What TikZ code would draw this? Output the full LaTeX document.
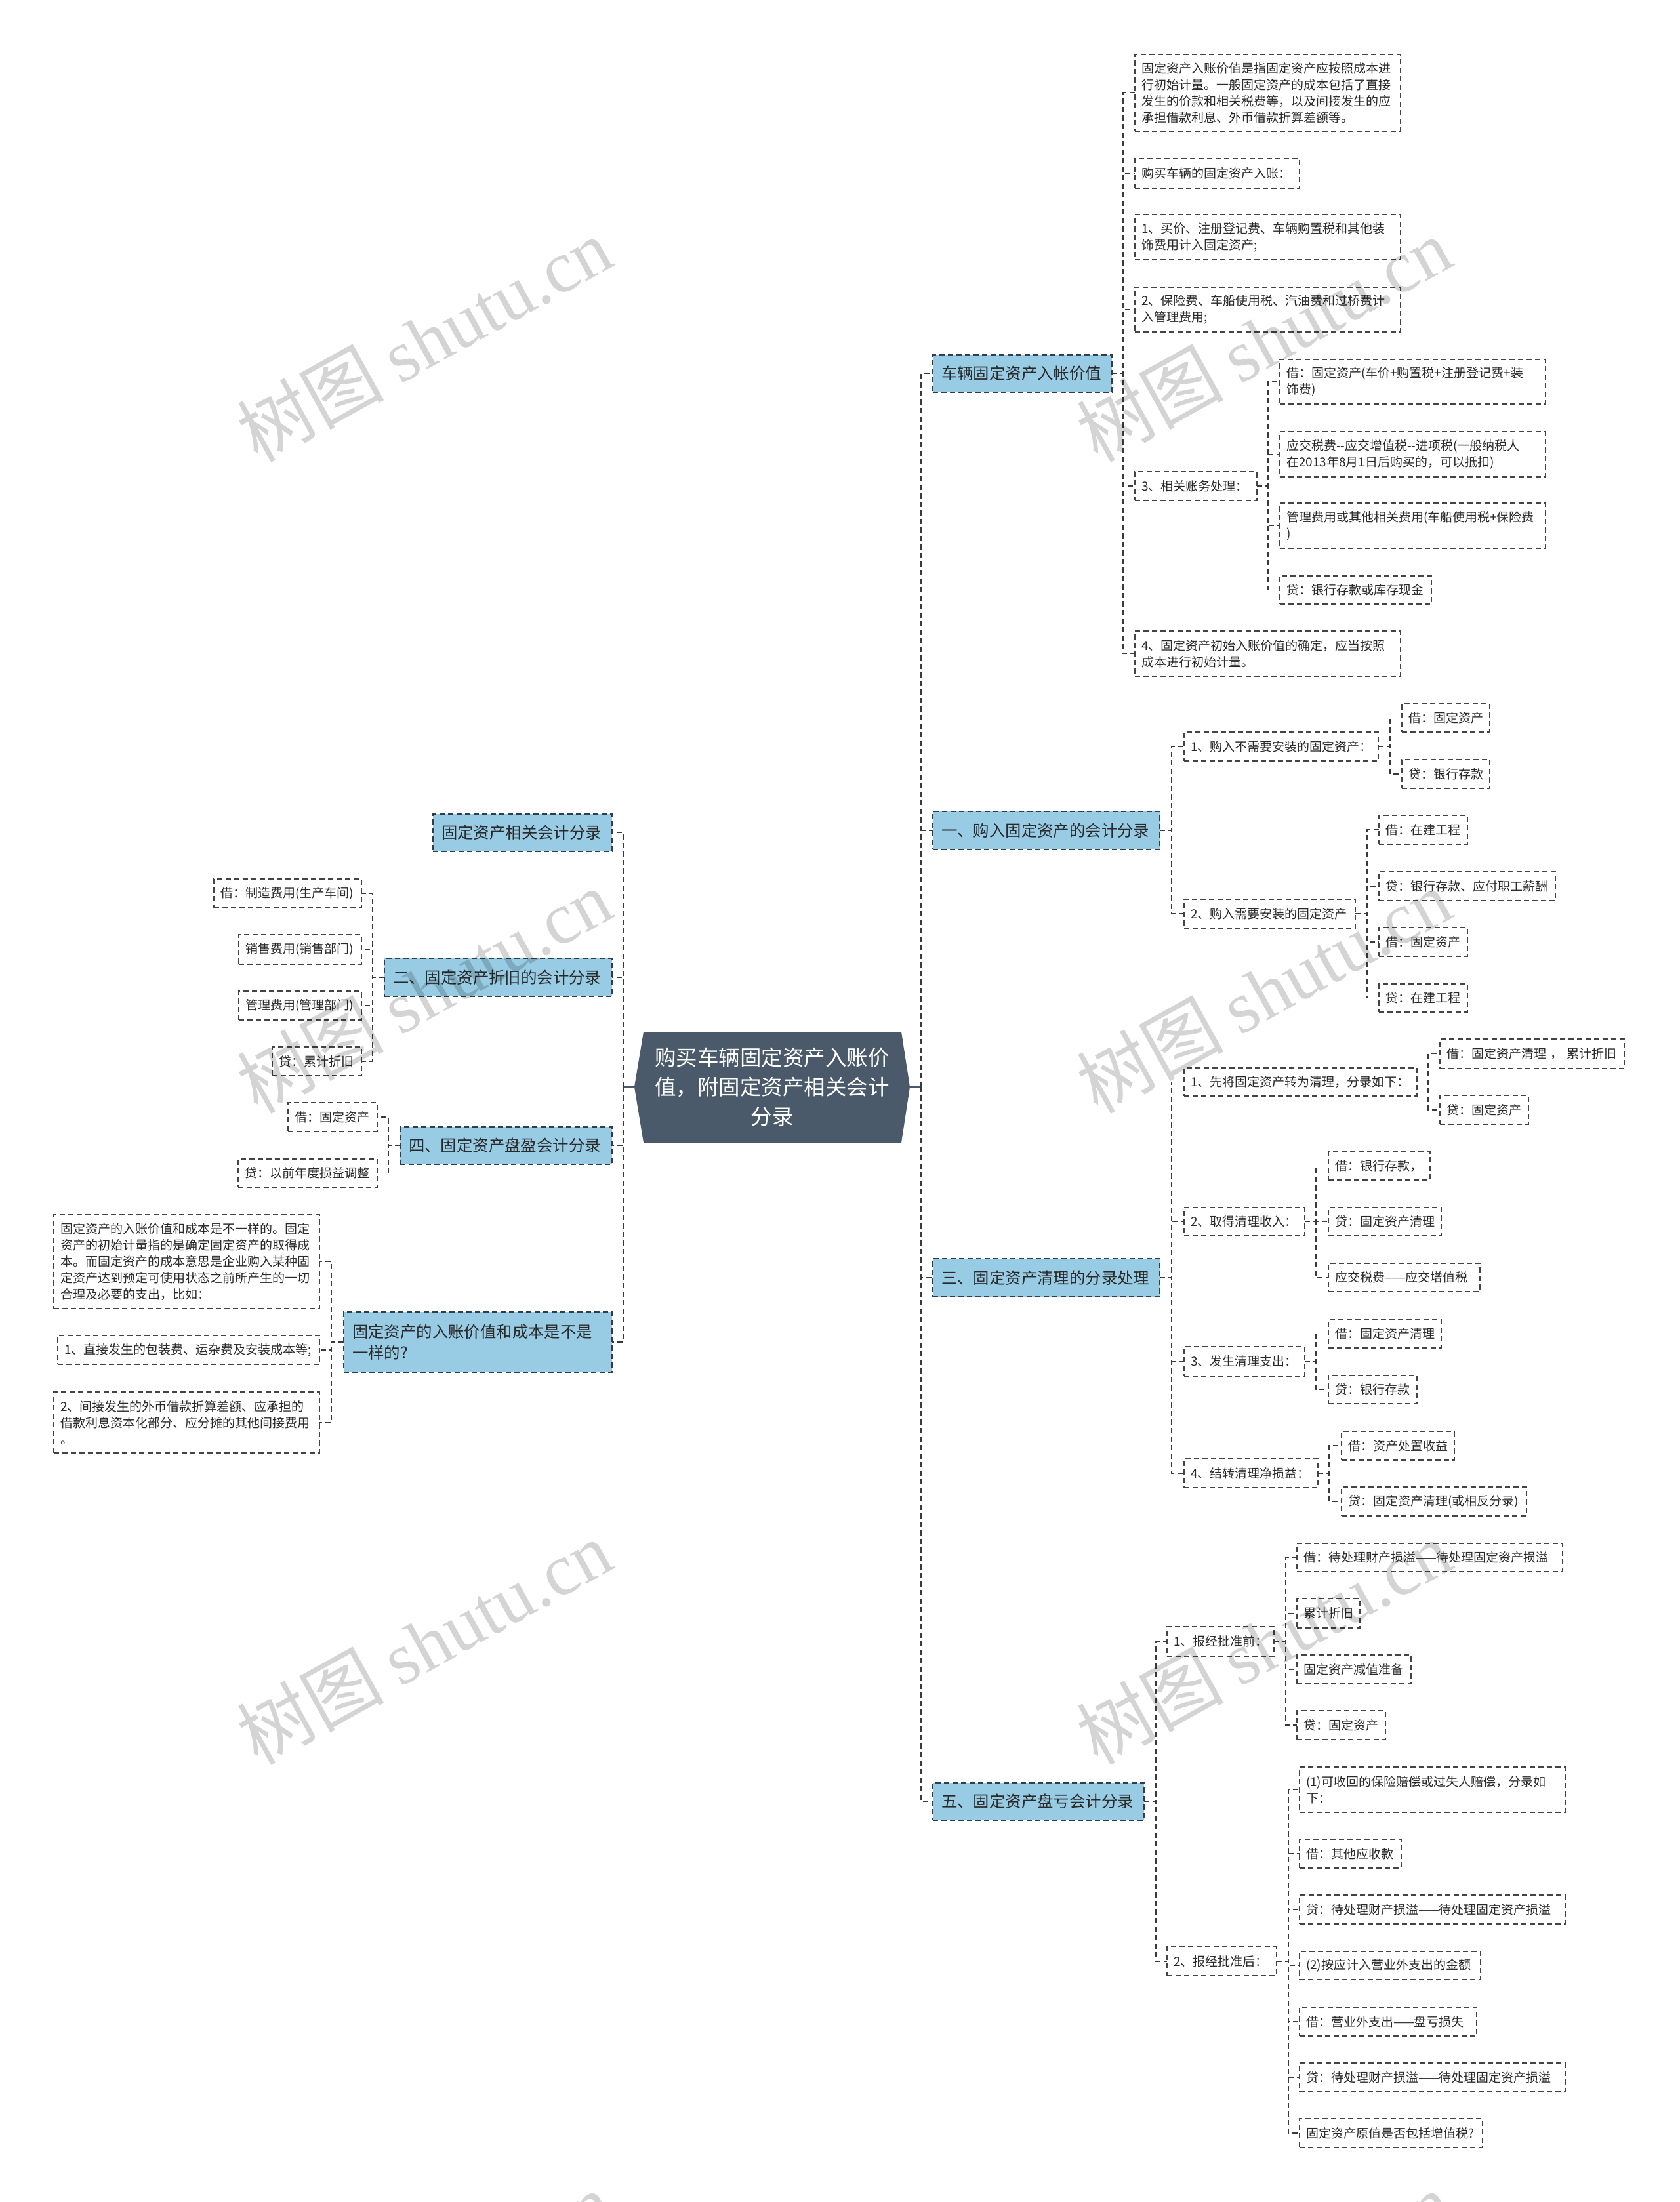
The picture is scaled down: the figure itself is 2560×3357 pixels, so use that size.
\documentclass[tikz,border=0pt]{standalone}
\usepackage{fontspec}
\newfontfamily\cjk{Noto Sans CJK SC}
\newfontfamily\wmlatin{Liberation Serif}
\usetikzlibrary{calc}
\definecolor{bluef}{HTML}{97CCE4}
\definecolor{topicb}{HTML}{2E3E4E}
\definecolor{rootf}{HTML}{4A5A6A}
\definecolor{linec}{HTML}{3A3A3A}
\definecolor{boxc}{HTML}{444444}
\definecolor{txt}{HTML}{2A2A2A}
\tikzset{
  conn/.style={draw=linec, line width=1.6pt, dash pattern=on 8pt off 5pt},
  rootline/.style={draw=rootf, line width=2.6pt},
  leaf/.style={draw=boxc, line width=1.6pt, dash pattern=on 8pt off 5pt, inner ysep=3pt,
    align=left, text=txt, outer sep=0pt, font=\cjk\fontsize{19}{25}\selectfont},
  topic/.style={fill=bluef, draw=topicb, line width=1.6pt, dash pattern=on 8pt off 5pt,
    inner ysep=3pt, align=left, text=txt, outer sep=0pt, font=\cjk\fontsize{24.4}{32}\selectfont},
  rootnode/.style={align=center, text=white, inner sep=0pt, minimum width=420pt, minimum height=169pt,
    font=\cjk\fontsize{32.5}{45}\selectfont},
  wm/.style={rotate=29, text=black, text opacity=0.17, inner sep=0pt}
}
% name, style, pad, left, right, top, bottom, text
\newcommand\placebox[8]{%
  \pgfmathsetmacro\pbw{#5-#4}%
  \pgfmathsetmacro\pbh{#7-#6}%
  \pgfmathsetmacro\pbt{#5-#4-2*#3}%
  \pgfmathsetmacro\pbx{(#4+#5)/2}%
  \pgfmathsetmacro\pby{(#6+#7)/2}%
  \node[#2, inner xsep=#3pt, minimum width=\pbw pt, minimum height=\pbh pt, text width=\pbt pt] (#1) at (\pbx,\pby) {#8};}
\newcommand\rbranch[3]{\foreach \cc in {#3}{\draw[conn] (#1.east) -- ++(#2,0) |- (\cc.west);}}
\newcommand\lbranch[3]{\foreach \cc in {#3}{\draw[conn] (#1.west) -- ++(-#2,0) |- (\cc.east);}}
\begin{document}
\begin{tikzpicture}[x=1pt,y=-1pt]
\useasboundingbox[fill=white] (0,0) rectangle (2560,3357);

% ---------- root ----------
\fill[rootf] (967,1657) -- (981,1573) -- (1374,1573) -- (1387,1657) -- (1374,1742) -- (981,1742) -- cycle;
\node[rootnode] (root) at (1177,1657) {购买车辆固定资产入账价\\值，附固定资产相关会计\\分录};
\coordinate (rt) at (1404,1657);
\coordinate (lt) at (950,1657);
\draw[rootline] (root.east) -- (rt);
\draw[rootline] (root.west) -- (lt);

% ---------- right topics ----------
\placebox{R1}{topic}{13}{1422}{1695}{541}{598}{车辆固定资产入帐价值}
\placebox{R2}{topic}{13}{1422}{1768}{1237}{1295}{一、购入固定资产的会计分录}
\placebox{R3}{topic}{13}{1422}{1768}{1919}{1977}{三、固定资产清理的分录处理}
\placebox{R4}{topic}{13}{1422}{1744}{2718}{2775}{五、固定资产盘亏会计分录}

% R1 children
\placebox{a}{leaf}{10}{1730}{2135}{83}{200}{固定资产入账价值是指固定资产应按照成本进\\行初始计量。一般固定资产的成本包括了直接\\发生的价款和相关税费等，以及间接发生的应\\承担借款利息、外币借款折算差额等。}
\placebox{b}{leaf}{10}{1730}{1981}{242}{287}{购买车辆的固定资产入账：}
\placebox{c}{leaf}{10}{1730}{2135}{327}{396}{1、买价、注册登记费、车辆购置税和其他装\\饰费用计入固定资产;}
\placebox{d}{leaf}{10}{1730}{2135}{438}{506}{2、保险费、车船使用税、汽油费和过桥费计\\入管理费用;}
\placebox{e}{leaf}{10}{1730}{1916}{719}{763}{3、相关账务处理：}
\placebox{f}{leaf}{10}{1730}{2135}{962}{1031}{4、固定资产初始入账价值的确定，应当按照\\成本进行初始计量。}
\placebox{e1}{leaf}{10}{1951}{2356}{548}{616}{借：固定资产(车价+购置税+注册登记费+装\\饰费)}
\placebox{e2}{leaf}{10}{1951}{2356}{658}{727}{应交税费--应交增值税--进项税(一般纳税人\\在2013年8月1日后购买的，可以抵扣)}
\placebox{e3}{leaf}{10}{1951}{2356}{767}{836}{管理费用或其他相关费用(车船使用税+保险费\\)}
\placebox{e4}{leaf}{10}{1951}{2182}{878}{921}{贷：银行存款或库存现金}

% R2 children
\placebox{g}{leaf}{10}{1805}{2101}{1116}{1160}{1、购入不需要安装的固定资产：}
\placebox{g1}{leaf}{10}{2137}{2271}{1073}{1116}{借：固定资产}
\placebox{g2}{leaf}{10}{2137}{2271}{1158}{1202}{贷：银行存款}
\placebox{h}{leaf}{10}{1805}{2066}{1371}{1415}{2、购入需要安装的固定资产}
\placebox{h1}{leaf}{10}{2102}{2237}{1243}{1287}{借：在建工程}
\placebox{h2}{leaf}{10}{2102}{2371}{1329}{1373}{贷：银行存款、应付职工薪酬}
\placebox{h3}{leaf}{10}{2102}{2237}{1414}{1458}{借：固定资产}
\placebox{h4}{leaf}{10}{2102}{2237}{1500}{1543}{贷：在建工程}

% R3 children
\placebox{i}{leaf}{10}{1805}{2160}{1628}{1671}{1、先将固定资产转为清理，分录如下：}
\placebox{i1}{leaf}{10}{2195}{2476}{1584}{1629}{借：固定资产清理 ， 累计折旧}
\placebox{i2}{leaf}{10}{2195}{2330}{1670}{1714}{贷：固定资产}
\placebox{j}{leaf}{10}{1805}{1989}{1841}{1884}{2、取得清理收入：}
\placebox{j1}{leaf}{10}{2025}{2180}{1756}{1799}{借：银行存款，}
\placebox{j2}{leaf}{10}{2025}{2197}{1841}{1884}{贷：固定资产清理}
\placebox{j3}{leaf}{10}{2025}{2256}{1926}{1969}{应交税费——应交增值税}
\placebox{k}{leaf}{10}{1805}{1989}{2053}{2098}{3、发生清理支出：}
\placebox{k1}{leaf}{10}{2025}{2197}{2012}{2055}{借：固定资产清理}
\placebox{k2}{leaf}{10}{2025}{2160}{2097}{2140}{贷：银行存款}
\placebox{l}{leaf}{10}{1805}{2009}{2224}{2268}{4、结转清理净损益：}
\placebox{l1}{leaf}{10}{2045}{2217}{2182}{2226}{借：资产处置收益}
\placebox{l2}{leaf}{10}{2045}{2327}{2267}{2311}{贷：固定资产清理(或相反分录)}

% R4 children
\placebox{m}{leaf}{10}{1779}{1942}{2480}{2525}{1、报经批准前：}
\placebox{m1}{leaf}{10}{1977}{2382}{2353}{2396}{借：待处理财产损溢——待处理固定资产损溢}
\placebox{m2}{leaf}{10}{1977}{2073}{2437}{2482}{累计折旧}
\placebox{m3}{leaf}{10}{1977}{2151}{2523}{2567}{固定资产减值准备}
\placebox{m4}{leaf}{10}{1977}{2112}{2608}{2652}{贷：固定资产}
\placebox{n}{leaf}{10}{1779}{1946}{2968}{3012}{2、报经批准后：}
\placebox{n1}{leaf}{10}{1981}{2386}{2694}{2763}{(1)可收回的保险赔偿或过失人赔偿，分录如\\下：}
\placebox{n2}{leaf}{10}{1981}{2136}{2804}{2848}{借：其他应收款}
\placebox{n3}{leaf}{10}{1981}{2386}{2889}{2933}{贷：待处理财产损溢——待处理固定资产损溢}
\placebox{n4}{leaf}{10}{1981}{2257}{2975}{3018}{(2)按应计入营业外支出的金额}
\placebox{n5}{leaf}{10}{1981}{2251}{3060}{3104}{借：营业外支出——盘亏损失}
\placebox{n6}{leaf}{10}{1981}{2386}{3145}{3189}{贷：待处理财产损溢——待处理固定资产损溢}
\placebox{n7}{leaf}{10}{1981}{2260}{3230}{3274}{固定资产原值是否包括增值税?}

% ---------- left topics ----------
\placebox{L1}{topic}{13}{660}{933}{1241}{1298}{固定资产相关会计分录}
\placebox{L2}{topic}{13}{586}{933}{1461}{1519}{二、固定资产折旧的会计分录}
\placebox{L3}{topic}{13}{610}{933}{1718}{1775}{四、固定资产盘盈会计分录}
\placebox{L4}{topic}{13}{524}{933}{2000}{2092}{固定资产的入账价值和成本是不是\\一样的?}

\placebox{p1}{leaf}{10}{326}{551}{1340}{1384}{借：制造费用(生产车间)}
\placebox{p2}{leaf}{10}{364}{551}{1425}{1470}{销售费用(销售部门)}
\placebox{p3}{leaf}{10}{364}{551}{1511}{1555}{管理费用(管理部门)}
\placebox{p4}{leaf}{10}{415}{551}{1596}{1640}{贷：累计折旧}
\placebox{q1}{leaf}{10}{439}{575}{1681}{1725}{借：固定资产}
\placebox{q2}{leaf}{10}{363}{575}{1767}{1810}{贷：以前年度损益调整}
\placebox{r1}{leaf}{10}{82}{487}{1852}{1995}{固定资产的入账价值和成本是不一样的。固定\\资产的初始计量指的是确定固定资产的取得成\\本。而固定资产的成本意思是企业购入某种固\\定资产达到预定可使用状态之前所产生的一切\\合理及必要的支出，比如：}
\placebox{r2}{leaf}{10}{88}{487}{2036}{2080}{1、直接发生的包装费、运杂费及安装成本等;}
\placebox{r3}{leaf}{10}{82}{487}{2122}{2215}{2、间接发生的外币借款折算差额、应承担的\\借款利息资本化部分、应分摊的其他间接费用\\。}

% ---------- connectors ----------
\foreach \cc in {R1,R2,R3,R4}{\draw[conn] (rt) |- (\cc.west);}
\foreach \cc in {L1,L2,L3,L4}{\draw[conn] (lt) |- (\cc.east);}
\rbranch{R1}{17}{a,b,c,d,e,f}
\rbranch{e}{17}{e1,e2,e3,e4}
\rbranch{R2}{18}{g,h}
\rbranch{g}{18}{g1,g2}
\rbranch{h}{18}{h1,h2,h3,h4}
\rbranch{R3}{18}{i,j,k,l}
\rbranch{i}{17}{i1,i2}
\rbranch{j}{17}{j1,j2,j3}
\rbranch{k}{17}{k1,k2}
\rbranch{l}{17}{l1,l2}
\rbranch{R4}{18}{m,n}
\rbranch{m}{18}{m1,m2,m3,m4}
\rbranch{n}{18}{n1,n2,n3,n4,n5,n6,n7}
\lbranch{L2}{18}{p1,p2,p3,p4}
\lbranch{L3}{18}{q1,q2}
\lbranch{L4}{19}{r1,r2,r3}

% ---------- watermarks ----------
\foreach \wx/\wy [count=\wi] in {646/518,1926/518,646/1511,1926/1511,646/2504,1926/2504,646/3497,1926/3497}{
  \node[wm] (wm\wi) at (\wx,\wy) {\cjk\fontsize{112}{112}\selectfont 树图 \wmlatin shutu.cn};
}
\end{tikzpicture}
\end{document}
